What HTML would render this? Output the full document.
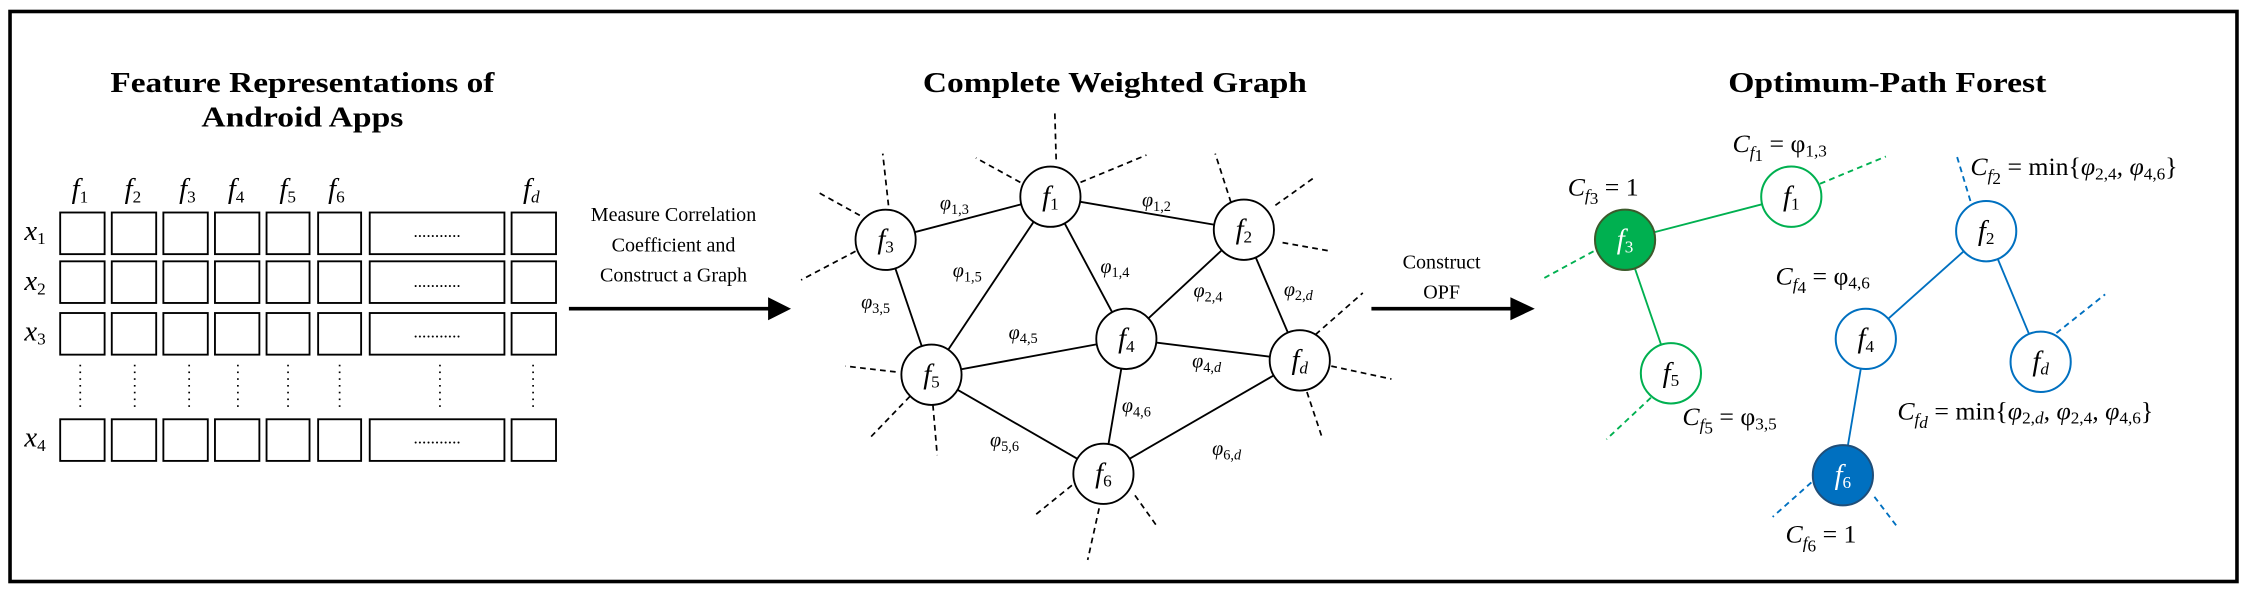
<!DOCTYPE html>
<html><head><meta charset="utf-8"><style>
html,body{margin:0;padding:0;background:#fff;}
svg{display:block;}
text{font-family:"Liberation Serif",serif;}
.t{font-weight:bold;font-size:20px;}
.n{font-style:italic;font-size:20px;}
.s{font-style:normal;font-size:12px;}
.e{font-style:italic;font-size:14px;}
.es{font-style:normal;font-size:10px;}
.c{font-style:italic;font-size:18px;}
.cs{font-style:normal;font-size:12px;}
.u{font-style:normal;}
.i{font-style:italic;}
</style></head><body>
<svg width="2247" height="593" viewBox="0 0 1568 413" preserveAspectRatio="none" xmlns="http://www.w3.org/2000/svg">
<rect x="7" y="8" width="1554" height="397" fill="#fff" stroke="#000" stroke-width="2.5"/>
<!-- titles -->
<text class="t" x="211" y="64" text-anchor="middle" textLength="268" lengthAdjust="spacingAndGlyphs">Feature Representations of</text>
<text class="t" x="211" y="88" text-anchor="middle" textLength="141" lengthAdjust="spacingAndGlyphs">Android Apps</text>
<text class="t" x="778" y="64" text-anchor="middle" textLength="268" lengthAdjust="spacingAndGlyphs">Complete Weighted Graph</text>
<text class="t" x="1317" y="64" text-anchor="middle" textLength="222" lengthAdjust="spacingAndGlyphs">Optimum-Path Forest</text>

<!-- feature matrix -->
<g fill="none" stroke="#000" stroke-width="1.3">
<g id="row">
<rect x="42" y="148" width="31" height="29"/><rect x="78" y="148" width="31" height="29"/>
<rect x="114" y="148" width="31" height="29"/><rect x="150" y="148" width="31" height="29"/>
<rect x="186" y="148" width="30" height="29"/><rect x="222" y="148" width="30" height="29"/>
<rect x="258" y="148" width="94" height="29"/><rect x="357" y="148" width="31" height="29"/>
</g>
<use href="#row" y="34"/><use href="#row" y="70"/><use href="#row" y="144"/>
</g>
<g font-size="12" text-anchor="middle">
<text x="305" y="165">...........</text><text x="305" y="200">...........</text>
<text x="305" y="235">...........</text><text x="305" y="309">...........</text>
</g>
<g stroke="#000" stroke-width="1.2" stroke-dasharray="1.2,3.5">
<line x1="56" y1="254" x2="56" y2="286"/><line x1="94" y1="254" x2="94" y2="286"/>
<line x1="132" y1="254" x2="132" y2="286"/><line x1="166" y1="254" x2="166" y2="286"/>
<line x1="201" y1="254" x2="201" y2="286"/><line x1="237" y1="254" x2="237" y2="286"/>
<line x1="307" y1="254" x2="307" y2="286"/><line x1="372" y1="254" x2="372" y2="286"/>
</g>
<g>
<text x="50" y="138" class="n">f<tspan class="s" dy="3">1</tspan></text>
<text x="87" y="138" class="n">f<tspan class="s" dy="3">2</tspan></text>
<text x="125" y="138" class="n">f<tspan class="s" dy="3">3</tspan></text>
<text x="159" y="138" class="n">f<tspan class="s" dy="3">4</tspan></text>
<text x="195" y="138" class="n">f<tspan class="s" dy="3">5</tspan></text>
<text x="229" y="138" class="n">f<tspan class="s" dy="3">6</tspan></text>
<text x="365" y="138" class="n">f<tspan class="s i" dy="3">d</tspan></text>
<text x="17" y="167" class="n">x<tspan class="s" dy="3">1</tspan></text>
<text x="17" y="202" class="n">x<tspan class="s" dy="3">2</tspan></text>
<text x="17" y="237" class="n">x<tspan class="s" dy="3">3</tspan></text>
<text x="17" y="311" class="n">x<tspan class="s" dy="3">4</tspan></text>
</g>

<!-- arrow 1 -->
<line x1="397" y1="215" x2="538" y2="215" stroke="#000" stroke-width="2.5"/>
<polygon points="536,207 552,215 536,223" fill="#000"/>
<g font-size="14" text-anchor="middle">
<text x="470" y="154">Measure Correlation</text>
<text x="470" y="175">Coefficient and</text>
<text x="470" y="196">Construct a Graph</text>
</g>

<!-- complete graph edges -->
<g stroke="#000" stroke-width="1.3">
<line x1="618" y1="167" x2="733" y2="137"/><line x1="733" y1="137" x2="868" y2="160"/>
<line x1="733" y1="137" x2="650" y2="261"/><line x1="733" y1="137" x2="786" y2="236"/>
<line x1="618" y1="167" x2="650" y2="261"/><line x1="868" y1="160" x2="786" y2="236"/>
<line x1="868" y1="160" x2="907" y2="251"/><line x1="650" y1="261" x2="786" y2="236"/>
<line x1="786" y1="236" x2="907" y2="251"/><line x1="650" y1="261" x2="770" y2="330"/>
<line x1="786" y1="236" x2="770" y2="330"/><line x1="907" y1="251" x2="770" y2="330"/>
</g>
<g stroke="#000" stroke-width="1.2" stroke-dasharray="4,3">
<line x1="737" y1="111" x2="736" y2="76"/><line x1="712" y1="127" x2="681" y2="110"/><line x1="754" y1="127" x2="800" y2="108"/>
<line x1="620" y1="143" x2="616" y2="107"/><line x1="600" y1="150" x2="571" y2="134"/><line x1="597" y1="175" x2="559" y2="195"/>
<line x1="859" y1="141" x2="848" y2="107"/><line x1="890" y1="143" x2="918" y2="123"/><line x1="895" y1="169" x2="929" y2="175"/>
<line x1="918" y1="233" x2="951" y2="204"/><line x1="929" y1="255" x2="971" y2="264"/><line x1="912" y1="273" x2="923" y2="306"/>
<line x1="625" y1="259" x2="590" y2="255"/><line x1="635" y1="276" x2="607" y2="305"/><line x1="651" y1="282" x2="654" y2="317"/>
<line x1="748" y1="338" x2="722" y2="359"/><line x1="767" y1="354" x2="759" y2="390"/><line x1="792" y1="345" x2="807" y2="366"/>
</g>
<g fill="#fff" stroke="#000" stroke-width="1.3">
<ellipse cx="733" cy="137" rx="21" ry="21"/><ellipse cx="618" cy="167" rx="21" ry="21"/>
<ellipse cx="868" cy="160" rx="21" ry="21"/><ellipse cx="786" cy="236" rx="21" ry="21"/>
<ellipse cx="650" cy="261" rx="21" ry="21"/><ellipse cx="907" cy="251" rx="21" ry="21"/>
<ellipse cx="770" cy="330" rx="21" ry="21"/>
</g>
<g text-anchor="middle">
<text class="n" x="733" y="143">f<tspan class="s" dy="3">1</tspan></text>
<text class="n" x="618" y="173">f<tspan class="s" dy="3">3</tspan></text>
<text class="n" x="868" y="166">f<tspan class="s" dy="3">2</tspan></text>
<text class="n" x="786" y="242">f<tspan class="s" dy="3">4</tspan></text>
<text class="n" x="650" y="267">f<tspan class="s" dy="3">5</tspan></text>
<text class="n" x="907" y="257">f<tspan class="s i" dy="3">d</tspan></text>
<text class="n" x="770" y="336">f<tspan class="s" dy="3">6</tspan></text>
</g>
<g text-anchor="middle">
<text class="e" x="666" y="146">φ<tspan class="es" dy="3">1,3</tspan></text>
<text class="e" x="807" y="144">φ<tspan class="es" dy="3">1,2</tspan></text>
<text class="e" x="675" y="193">φ<tspan class="es" dy="3">1,5</tspan></text>
<text class="e" x="778" y="190">φ<tspan class="es" dy="3">1,4</tspan></text>
<text class="e" x="611" y="215">φ<tspan class="es" dy="3">3,5</tspan></text>
<text class="e" x="843" y="207">φ<tspan class="es" dy="3">2,4</tspan></text>
<text class="e" x="906" y="206">φ<tspan class="es" dy="3">2,<tspan class="i">d</tspan></tspan></text>
<text class="e" x="714" y="236">φ<tspan class="es" dy="3">4,5</tspan></text>
<text class="e" x="842" y="256">φ<tspan class="es" dy="3">4,<tspan class="i">d</tspan></tspan></text>
<text class="e" x="793" y="287">φ<tspan class="es" dy="3">4,6</tspan></text>
<text class="e" x="701" y="311">φ<tspan class="es" dy="3">5,6</tspan></text>
<text class="e" x="856" y="317">φ<tspan class="es" dy="3">6,<tspan class="i">d</tspan></tspan></text>
</g>

<!-- arrow 2 -->
<line x1="957" y1="215" x2="1056" y2="215" stroke="#000" stroke-width="2.5"/>
<polygon points="1054,207 1071,215 1054,223" fill="#000"/>
<g font-size="14" text-anchor="middle">
<text x="1006" y="187">Construct</text>
<text x="1006" y="208">OPF</text>
</g>

<!-- OPF -->
<g stroke="#00b050" stroke-width="1.3">
<line x1="1134" y1="167" x2="1250" y2="137"/><line x1="1134" y1="167" x2="1166" y2="260"/>
</g>
<g stroke="#00b050" stroke-width="1.3" stroke-dasharray="4,3">
<line x1="1270" y1="128" x2="1316" y2="109"/><line x1="1112" y1="175" x2="1075" y2="195"/><line x1="1152" y1="277" x2="1121" y2="306"/>
</g>
<g stroke="#0070c0" stroke-width="1.3">
<line x1="1386" y1="161" x2="1302" y2="236"/><line x1="1386" y1="161" x2="1424" y2="252"/><line x1="1302" y1="236" x2="1286" y2="331"/>
</g>
<g stroke="#0070c0" stroke-width="1.3" stroke-dasharray="4,3">
<line x1="1375" y1="140" x2="1365" y2="107"/><line x1="1435" y1="232" x2="1469" y2="205"/>
<line x1="1264" y1="336" x2="1237" y2="360"/><line x1="1308" y1="346" x2="1324" y2="367"/>
</g>
<ellipse cx="1134" cy="167" rx="21" ry="21" fill="#00b050" stroke="#3b5a2b" stroke-width="1.4"/>
<ellipse cx="1250" cy="137" rx="21" ry="21" fill="#fff" stroke="#00b050" stroke-width="1.4"/>
<ellipse cx="1166" cy="260" rx="21" ry="21" fill="#fff" stroke="#00b050" stroke-width="1.4"/>
<ellipse cx="1386" cy="161" rx="21" ry="21" fill="#fff" stroke="#0070c0" stroke-width="1.4"/>
<ellipse cx="1302" cy="236" rx="21" ry="21" fill="#fff" stroke="#0070c0" stroke-width="1.4"/>
<ellipse cx="1424" cy="252" rx="21" ry="21" fill="#fff" stroke="#0070c0" stroke-width="1.4"/>
<ellipse cx="1286" cy="331" rx="21" ry="21" fill="#0070c0" stroke="#1f4e79" stroke-width="1.4"/>
<g text-anchor="middle">
<text class="n" x="1134" y="173" fill="#fff">f<tspan class="s" dy="3">3</tspan></text>
<text class="n" x="1250" y="143">f<tspan class="s" dy="3">1</tspan></text>
<text class="n" x="1166" y="266">f<tspan class="s" dy="3">5</tspan></text>
<text class="n" x="1386" y="167">f<tspan class="s" dy="3">2</tspan></text>
<text class="n" x="1302" y="242">f<tspan class="s" dy="3">4</tspan></text>
<text class="n" x="1424" y="258">f<tspan class="s i" dy="3">d</tspan></text>
<text class="n" x="1286" y="337" fill="#fff">f<tspan class="s" dy="3">6</tspan></text>
</g>
<g>
<text class="c" x="1209" y="106">C<tspan class="cs i" dy="4">f</tspan><tspan class="cs" font-size="8" dy="2">1</tspan><tspan class="u" dy="-6"> = φ</tspan><tspan class="cs" dy="3">1,3</tspan></text>
<text class="c" x="1094" y="136">C<tspan class="cs i" dy="4">f</tspan><tspan class="cs" font-size="8" dy="2">3</tspan><tspan class="u" dy="-6"> = 1</tspan></text>
<text class="c" x="1375" y="122">C<tspan class="cs i" dy="4">f</tspan><tspan class="cs" font-size="8" dy="2">2</tspan><tspan class="u" dy="-6"> = min{</tspan>φ<tspan class="cs" dy="3">2,4</tspan><tspan dy="-3">, φ</tspan><tspan class="cs" dy="3">4,6</tspan><tspan class="u" dy="-3">}</tspan></text>
<text class="c" x="1239" y="198">C<tspan class="cs i" dy="4">f</tspan><tspan class="cs" font-size="8" dy="2">4</tspan><tspan class="u" dy="-6"> = φ</tspan><tspan class="cs" dy="3">4,6</tspan></text>
<text class="c" x="1174" y="296">C<tspan class="cs i" dy="4">f</tspan><tspan class="cs" font-size="8" dy="2">5</tspan><tspan class="u" dy="-6"> = φ</tspan><tspan class="cs" dy="3">3,5</tspan></text>
<text class="c" x="1324" y="292">C<tspan class="cs i" dy="4">f</tspan><tspan class="cs i" font-size="9" dy="2">d</tspan><tspan class="u" dy="-6"> = min{</tspan>φ<tspan class="cs" dy="3">2,<tspan class="i">d</tspan></tspan><tspan dy="-3">, φ</tspan><tspan class="cs" dy="3">2,4</tspan><tspan dy="-3">, φ</tspan><tspan class="cs" dy="3">4,6</tspan><tspan class="u" dy="-3">}</tspan></text>
<text class="c" x="1246" y="378">C<tspan class="cs i" dy="4">f</tspan><tspan class="cs" font-size="8" dy="2">6</tspan><tspan class="u" dy="-6"> = 1</tspan></text>
</g>
</svg>
</body></html>
